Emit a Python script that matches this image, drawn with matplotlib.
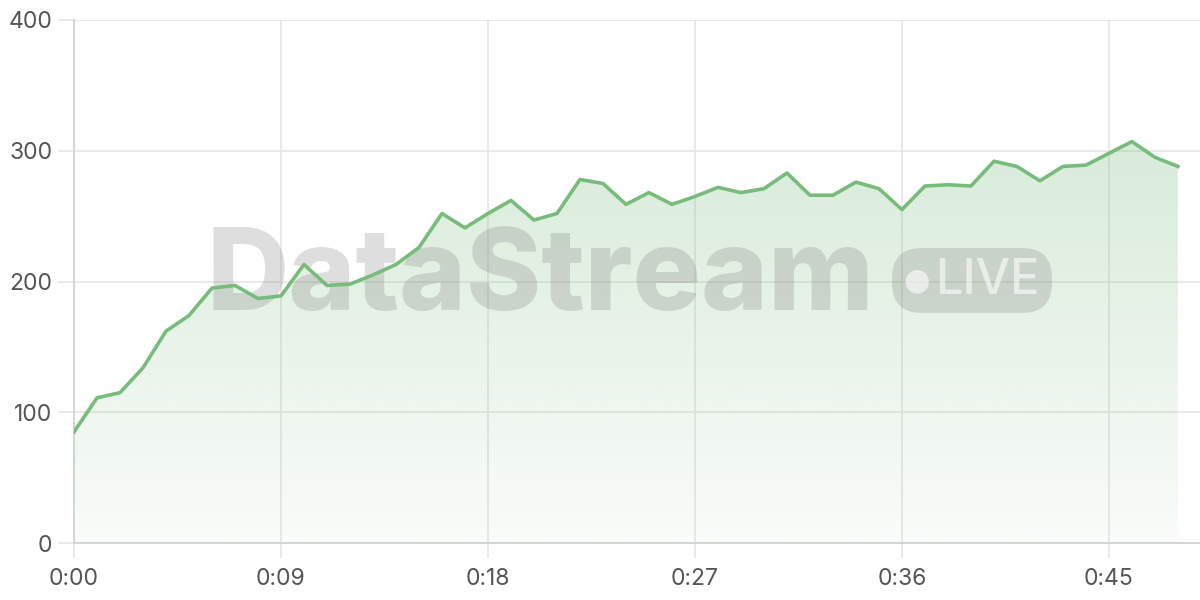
import numpy as np
import matplotlib
matplotlib.use("Agg")
import matplotlib.pyplot as plt
from matplotlib.patches import FancyBboxPatch

# values, one point per second
seconds = list(range(49))
values = [85, 111, 115, 134, 162, 174, 195, 197, 187, 189,
          213, 197, 198, 205, 213, 226, 252, 241, 252, 262,
          247, 252, 278, 275, 259, 268, 259, 265, 272, 268,
          271, 283, 266, 266, 276, 271, 255, 273, 274, 273,
          292, 288, 277, 288, 289, 298, 307, 295, 288]
x_ticks = [0, 9, 18, 27, 36, 45]
x_labels = ["0:00", "0:09", "0:18", "0:27", "0:36", "0:45"]
y_ticks = [0, 100, 200, 300, 400]

LINE = "#78bc7b"
GRID = "#e6e6e6"
AXIS = "#d2d2d2"
TEXT = "#555555"

plt.rcParams["font.family"] = ["Inter", "DejaVu Sans"]

fig = plt.figure(figsize=(12, 6), dpi=100)
ax = fig.add_axes([74 / 1200, 57 / 600, 1 - 74 / 1200, 523 / 600])

# gradient fill under the line
grad = np.linspace(0.04, 0.28, 256).reshape(-1, 1)
rgba = np.zeros((256, 1, 4))
rgba[..., 0] = 0x74 / 255
rgba[..., 1] = 0xb9 / 255
rgba[..., 2] = 0x78 / 255
rgba[..., 3] = grad
top = max(values)
img = ax.imshow(rgba, extent=[0, seconds[-1], 0, top], origin="lower",
                aspect="auto", zorder=1, interpolation="bilinear")
poly = ax.fill_between(seconds, values, 0, color="none", lw=0)
clip = poly.get_paths()[0]
img.set_clip_path(clip, transform=ax.transData)
ax.set_xlim(0, 48.96)
ax.set_ylim(0, 400)

ax.plot(seconds, values, color=LINE, lw=2.6, zorder=4, solid_joinstyle="round")

# grid and axes
ax.set_xticks(x_ticks)
ax.set_xticklabels(x_labels)
ax.set_yticks(y_ticks)
ax.grid(True, color=GRID, lw=1.2, zorder=0)
ax.set_axisbelow(True)
for side in ["top", "right"]:
    ax.spines[side].set_visible(False)
for side in ["left", "bottom"]:
    ax.spines[side].set_color(AXIS)
    ax.spines[side].set_linewidth(1.3)
ax.tick_params(axis="y", length=11.5, width=1.2, color=GRID, labelsize=16.5,
               labelcolor=TEXT, pad=4)
ax.tick_params(axis="x", length=11, width=1.2, color=GRID, labelsize=16.5,
               labelcolor=TEXT, pad=7)

# watermark, between the fill and the line
wm_color = (0.45, 0.45, 0.45)
ax.text(540 / 1200, 1 - 280 / 600, "DataStream", fontsize=82, fontweight="heavy",
        color=wm_color, alpha=0.23, ha="center", va="center", zorder=2,
        transform=fig.transFigure, clip_on=False)
pill = FancyBboxPatch((892 / 1200, 1 - 313 / 600), 160 / 1200, 65 / 600,
                      boxstyle="round,pad=0,rounding_size=0.025",
                      transform=fig.transFigure, facecolor=wm_color, alpha=0.23,
                      edgecolor="none", zorder=2, mutation_aspect=2, clip_on=False)
ax.add_artist(pill)
ax.text(917 / 1200, 1 - 281 / 600, "\u25cf", fontsize=22, color="white", alpha=0.6,
        ha="center", va="center", family="DejaVu Sans", zorder=3,
        transform=fig.transFigure)
ax.text(987 / 1200, 1 - 281 / 600, "LIVE", fontsize=35, color="white", alpha=0.6,
        ha="center", va="center", fontweight="medium", zorder=3,
        transform=fig.transFigure)

fig.savefig("out.png", dpi=100)
